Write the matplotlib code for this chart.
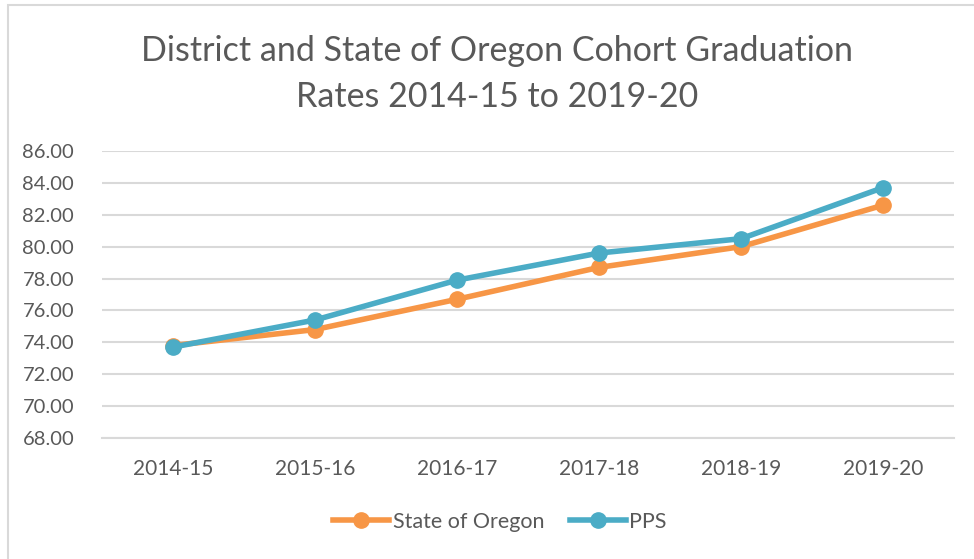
import matplotlib
matplotlib.use('Agg')
import matplotlib.pyplot as plt
from matplotlib.patches import Rectangle

# dados
anos = ['2014-15', '2015-16', '2016-17', '2017-18', '2018-19', '2019-20']
oregon = [73.8, 74.8, 76.7, 78.7, 80.0, 82.6]
pps = [73.7, 75.4, 77.9, 79.6, 80.5, 83.7]

COR_OREGON = '#F79646'
COR_PPS = '#4BACC6'
CINZA_TEXTO = '#595959'
CINZA_GRADE = '#D9D9D9'

plt.rcParams['font.family'] = ['Lato', 'DejaVu Sans']

W, H = 974, 559
fig = plt.figure(figsize=(W / 100, H / 100), dpi=100)
ax = fig.add_axes([102 / W, 1 - 438 / H, (954 - 102) / W, (438 - 151) / H])

x = range(len(anos))
ax.plot(x, oregon, '-o', color=COR_OREGON, lw=4, ms=11, label='State of Oregon', zorder=3)
ax.plot(x, pps, '-o', color=COR_PPS, lw=4, ms=11, label='PPS', zorder=4)

ax.set_xlim(-0.5, len(anos) - 0.5)
ax.set_ylim(68, 86)
ax.set_yticks([68 + 2 * i for i in range(10)])
ax.set_yticklabels([f'{68 + 2 * i:.2f}' for i in range(10)])
ax.set_xticks(list(x))
ax.set_xticklabels(anos)

ax.grid(axis='y', color=CINZA_GRADE, lw=1.5)
ax.set_axisbelow(True)
for s in ['top', 'right', 'left']:
    ax.spines[s].set_visible(False)
ax.spines['bottom'].set_color(CINZA_GRADE)
ax.spines['bottom'].set_linewidth(1.5)
ax.tick_params(length=0, colors=CINZA_TEXTO)
ax.tick_params(axis='y', pad=20, labelsize=14.5)
ax.tick_params(axis='x', pad=15, labelsize=15)

fig.text(497 / W, 1 - 74 / H, 'District and State of Oregon Cohort Graduation\nRates 2014-15 to 2019-20',
         ha='center', va='center', fontsize=24.5, color=CINZA_TEXTO, linespacing=1.55)

fig.legend(loc='center', bbox_to_anchor=(500 / W, 1 - 522 / H), ncol=2, frameon=False,
           fontsize=15.5, labelcolor=CINZA_TEXTO, handlelength=2.6, handletextpad=0.15,
           columnspacing=1.2)

# borda do grafico
fig.patches.append(Rectangle((8 / W, -0.01), 1.0, 1 - 5 / H + 0.01, transform=fig.transFigure,
                             fill=False, ec=CINZA_GRADE, lw=1.5))

fig.savefig('out.png', dpi=100)
